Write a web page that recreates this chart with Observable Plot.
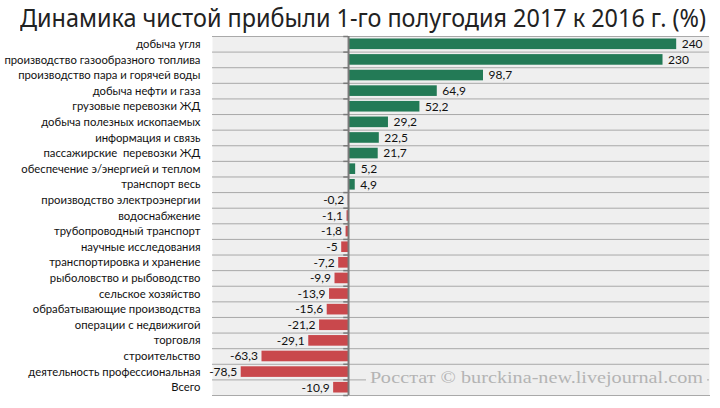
<!DOCTYPE html>
<html><head><meta charset="utf-8">
<script src="https://cdn.jsdelivr.net/npm/d3@7"></script>
<script src="https://cdn.jsdelivr.net/npm/@observablehq/plot@0.6"></script>
<style>
body{margin:0;background:#fff;width:720px;height:408px;overflow:hidden;position:relative;}
#title{position:absolute;left:0;top:0;width:720px;height:34px;}
#title span{position:absolute;left:20px;top:2px;font-family:"Noto Sans";font-size:25px;color:#222;white-space:nowrap;transform-origin:0 0;line-height:30px;}
#chart{position:absolute;left:0;top:35px;}
#chart svg{display:block;}
#src{position:absolute;left:366px;top:368px;width:341px;height:20px;background:#efefef;overflow:hidden;}
#src span{position:absolute;left:4px;top:0;font-family:"Liberation Serif";font-size:17px;color:#b4b4b4;line-height:20px;white-space:nowrap;transform-origin:0 0;}
</style></head>
<body>
<div id="title"><span id="tt">Динамика чистой прибыли 1-го полугодия 2017 к 2016 г. (%)</span></div>
<div id="chart"></div>
<div id="src"><span id="ss">Росстат © burckina-new.livejournal.com</span></div>
<script>
const categories = ["добыча угля","производство газообразного топлива","производство пара и горячей воды","добыча нефти и газа","грузовые перевозки ЖД","добыча полезных ископаемых","информация и связь","пассажирские  перевозки ЖД","обеспечение э/энергией и теплом","транспорт весь","производство электроэнергии","водоснабжение","трубопроводный транспорт","научные исследования","транспортировка и хранение","рыболовство и рыбоводство","сельское хозяйство","обрабатывающие производства","операции с недвижигой","торговля","строительство","деятельность профессиональная","Всего"];
const values = [240,230,98.7,64.9,52.2,29.2,22.5,21.7,5.2,4.9,-0.2,-1.1,-1.8,-5,-7.2,-9.9,-13.9,-15.6,-21.2,-29.1,-63.3,-78.5,-10.9];
const totalLabel = "Всего";

const data = categories.map((c,i)=>({cat:c, v:values[i], label:String(values[i]).replace(".", ",")}));
const W=720, H=373, mT=1, mB=13, mL=212, mR=11;
const step = (H-mT-mB)/categories.length;
const font = "Lato";
const chart = Plot.plot({
  width:W, height:H, marginTop:mT, marginBottom:mB, marginLeft:mL, marginRight:mR,
  style:{fontFamily:font, fontSize:"11px", background:"transparent"},
  x:{domain:[-99.5,264], axis:null},
  y:{domain:categories, paddingInner:0.32, paddingOuter:0.16, round:false, axis:null},
  marks:[
    Plot.frame({fill:"#efefef", stroke:null}),
    Plot.ruleY(categories, {y:d=>d, dy:-step/2, stroke:"#a9a9a9", strokeWidth:1}),
    Plot.frame({anchor:"bottom", stroke:"#a9a9a9"}),
    Plot.barX(data, {x:"v", y:"cat", fill:d=>d.v>=0?"#237a56":"#c9484c"}),
    Plot.ruleY(categories, {y:d=>d, dy:-step/2, x1:-3.5, x2:0, stroke:"#7a7a7a", strokeWidth:1.5}),
    Plot.ruleY([categories[categories.length-1]], {y:d=>d, dy:step/2, x1:-3.5, x2:0, stroke:"#7a7a7a", strokeWidth:1.5}),
    Plot.ruleX([0], {stroke:"#7a7a7a", strokeWidth:2}),
    Plot.text(data, {x:"v", y:"cat", text:"label", textAnchor:"start", filter:d=>d.v>=0, dx:5, fill:"#111", fontSize:12}),
    Plot.text(data, {x:"v", y:"cat", text:"label", textAnchor:"end", filter:d=>d.v<0, dx:-4, fill:"#111", fontSize:12}),
    Plot.text(data, {y:"cat", text:"cat", frameAnchor:"left", textAnchor:"end", dx:-12, fill:"#111", fontSize:11.3, fontWeight:d=>d.cat===totalLabel?"bold":"normal"})
  ]
});
document.getElementById("chart").appendChild(chart);
function fit(id, target){
  const el = document.getElementById(id);
  const w = el.getBoundingClientRect().width;
  el.style.transform = `scaleX(${target/w})`;
}
fit("tt", 686);
fit("ss", 333);
</script>
</body></html>
